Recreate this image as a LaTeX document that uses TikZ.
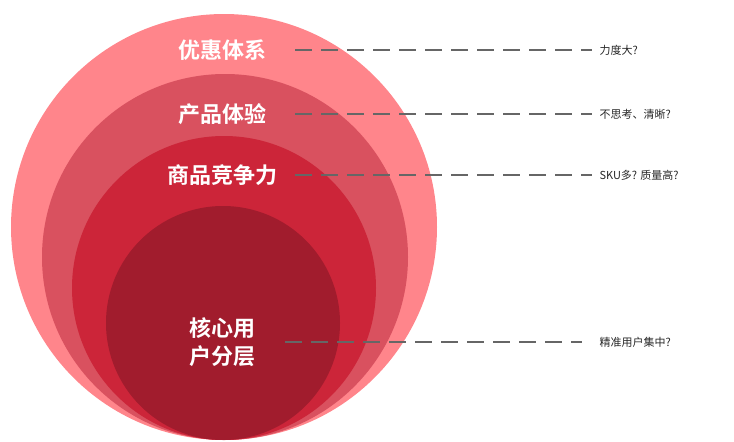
\documentclass[tikz,border=0pt]{standalone}
\usepackage{fontspec}
\setmainfont{Noto Sans CJK SC}
\newfontfamily\cjkb{Noto Sans CJK SC Bold}
\begin{document}
\begin{tikzpicture}[x=1pt,y=-1pt,
  lbl/.style={text=white,font=\cjkb\fontsize{22}{28}\selectfont,align=center},
  note/.style={anchor=west,font=\fontsize{11}{13}\selectfont,text=black!85},
  dashline/.style={draw=black!60,line width=2.2pt,dash pattern=on 17pt off 9pt}]
\useasboundingbox (0,0) rectangle (734,442);
\definecolor{c1}{HTML}{FF858B}
\definecolor{c2}{HTML}{D9515F}
\definecolor{c3}{HTML}{CC2539}
\definecolor{c4}{HTML}{A11C2D}
\fill[c1] (224,227) circle (213);
\fill[c2] (225,257) circle (183);
\fill[c3] (224,288) circle (152);
\fill[c4] (223,323) circle (117);
\node[lbl] (a) at (222,50) {优惠体系};
\node[lbl] (b) at (222,114) {产品体验};
\node[lbl] (c) at (222,175) {商品竞争力};
\node[lbl] (d) at (222,342) {核心用\\户分层};
\node[note] (na) at (596,50) {力度大?};
\node[note] (nb) at (596,114) {不思考、清晰?};
\node[note] (nc) at (596,175) {SKU多? 质量高?};
\node[note] (nd) at (596,342) {精准用户集中?};
\coordinate (sa) at (295,50); \coordinate (sb) at (295,114);
\coordinate (sc) at (295,175); \coordinate (sd) at (285,342);
\coordinate (ea) at (592,50); \coordinate (eb) at (592,114);
\coordinate (ec) at (592,175); \coordinate (ed) at (582,342);
\draw[dashline] (sa) -- (ea);
\draw[dashline] (sb) -- (eb);
\draw[dashline] (sc) -- (ec);
\draw[dashline] (sd) -- (ed);
\end{tikzpicture}
\end{document}
